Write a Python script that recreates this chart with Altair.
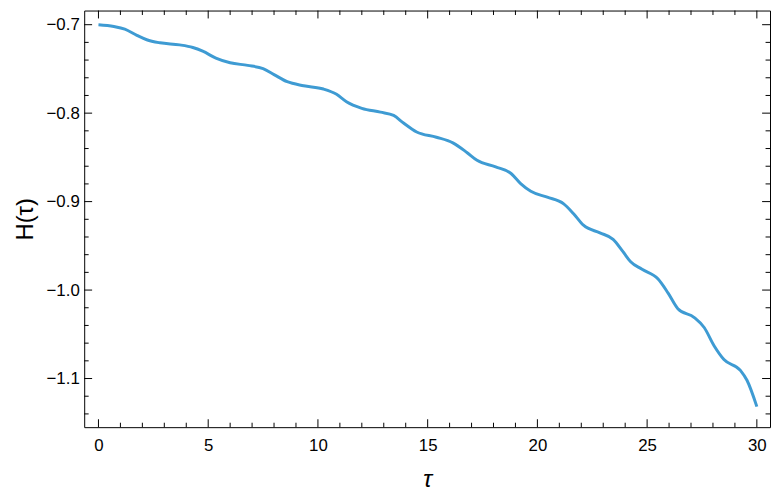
import altair as alt
import pandas as pd

# curve
tau = [0, 0.7, 1.2, 1.75, 2.2, 2.8, 3.7, 4.3, 4.75, 5.35, 6.0, 6.8, 7.5, 8.0, 8.6,
       9.35, 10.25, 10.85, 11.3, 12.0, 12.85, 13.45, 13.9, 14.5, 15.4, 16.15, 16.8,
       17.25, 18.1, 18.8, 19.25, 19.7, 20.45, 21.2, 21.65, 22.1, 22.85, 23.45, 23.9,
       24.25, 24.75, 25.5, 25.95, 26.4, 27.15, 27.6, 28.05, 28.5, 29.25, 29.55, 30.0]
H = [-0.700, -0.702, -0.705, -0.712, -0.717, -0.7205, -0.7228, -0.7258, -0.730,
     -0.7377, -0.743, -0.746, -0.7497, -0.7564, -0.7645, -0.769, -0.7727, -0.7787,
     -0.787, -0.7945, -0.7989, -0.8026, -0.8112, -0.8213, -0.8272, -0.8336, -0.8447,
     -0.8533, -0.8607, -0.8682, -0.880, -0.8884, -0.895, -0.9025, -0.9137, -0.9267,
     -0.9353, -0.9427, -0.9566, -0.968, -0.9763, -0.9875, -1.0031, -1.021, -1.0311,
     -1.0423, -1.0629, -1.0785, -1.0908, -1.102, -1.1318]

x_major = [0, 5, 10, 15, 20, 25, 30]
x_minor = [v for v in range(0, 31) if v % 5 != 0]
y_major = [-0.7, -0.8, -0.9, -1.0, -1.1]
y_minor = [-0.72, -0.74, -0.76, -0.78, -0.82, -0.84, -0.86, -0.88, -0.92, -0.94,
           -0.96, -0.98, -1.02, -1.04, -1.06, -1.08, -1.12, -1.14]

W, Hh = 693, 421
MAJ, MIN = 8, 4.5
FONT = "Liberation Sans"

xscale = alt.Scale(domain=[-0.65, 30.6], nice=False, zero=False)
yscale = alt.Scale(domain=[-1.155, -0.684], nice=False, zero=False)

xaxis = alt.Axis(values=x_major, ticks=False, tickSize=0, domain=False,
                 grid=False, labelFont=FONT, labelFontSize=17,
                 labelColor="black", labelPadding=11,
                 titleFont=FONT, titleFontSize=24, titleFontStyle="italic",
                 titleFontWeight="normal", titleColor="black",
                 titlePadding=14)
yaxis = alt.Axis(values=y_major, ticks=False, tickSize=0, domain=False,
                 grid=False, labelFont=FONT, labelFontSize=17,
                 labelColor="black", labelPadding=5,
                 labelExpr="replace(format(datum.value, '.1f'), '-', '\u2212')",
                 titleFont=FONT, titleFontSize=24,
                 titleFontWeight="normal", titleColor="black",
                 titlePadding=9)

df = pd.DataFrame({"tau": tau, "H": H})

line = alt.Chart(df).mark_line(
    color="#3e9bd3", strokeWidth=3, interpolate="monotone"
).encode(
    x=alt.X("tau:Q", scale=xscale, title="τ", axis=xaxis),
    y=alt.Y("H:Q", scale=yscale, title="H(τ)", axis=yaxis),
)


def xticks(vals, length, top):
    d = pd.DataFrame({"t": vals})
    if top:
        ypos = dict(y=alt.value(0), y2=alt.value(length))
    else:
        ypos = dict(y=alt.value(Hh), y2=alt.value(Hh - length))
    return alt.Chart(d).mark_rule(color="black", strokeWidth=1).encode(
        x=alt.X("t:Q", scale=xscale, title="τ", axis=xaxis), **ypos)


def yticks(vals, length, right):
    d = pd.DataFrame({"t": vals})
    if right:
        xpos = dict(x=alt.value(W), x2=alt.value(W - length))
    else:
        xpos = dict(x=alt.value(0), x2=alt.value(length))
    return alt.Chart(d).mark_rule(color="black", strokeWidth=1).encode(
        y=alt.Y("t:Q", scale=yscale, title="H(τ)", axis=yaxis), **xpos)


layers = [line]
for top in (False, True):
    layers.append(xticks(x_major, MAJ, top))
    layers.append(xticks(x_minor, MIN, top))
for right in (False, True):
    layers.append(yticks(y_major, MAJ, right))
    layers.append(yticks(y_minor, MIN, right))

chart = alt.layer(*layers).properties(
    width=W, height=Hh,
    background="white",
    autosize=alt.AutoSizeParams(type="none"),
    padding={"left": 77, "top": 0, "right": 2, "bottom": 69},
).configure_view(
    stroke="black", strokeWidth=1
)

chart.save("out.html", embed_options={"renderer": "svg", "actions": False})
